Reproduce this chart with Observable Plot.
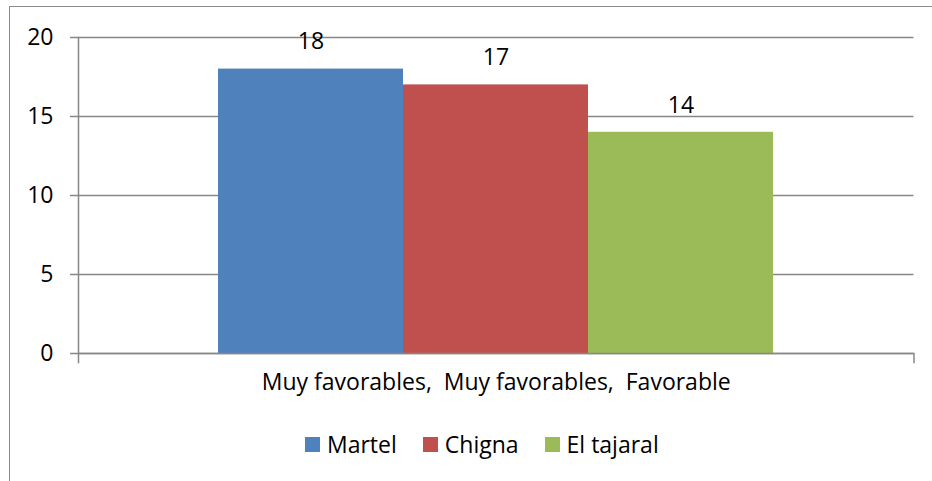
<!DOCTYPE html>
<html>
<head>
<meta charset="utf-8">
<script src="https://cdn.jsdelivr.net/npm/d3@7"></script>
<script src="https://cdn.jsdelivr.net/npm/@observablehq/plot@0.6"></script>
<style>
  body { margin: 0; background: #fff; }
  #chart { position: relative; width: 932px; height: 481px; overflow: hidden; font-family: "Open Sans", sans-serif; }
  #border { position: absolute; left: 9px; top: 6px; width: 1200px; height: 1200px; border: 1.5px solid #8c8c8c; box-sizing: border-box; }
  #plot { position: absolute; left: 0; top: 0; }
  #plot svg text { white-space: pre; }
  #legend { position: absolute; left: 305px; top: 428px; display: flex; align-items: center; font-size: 23px; line-height: 32px; color: #000; }
  .item { display: flex; align-items: center; margin-right: 26px; }
  .sw { width: 15px; height: 15px; margin-right: 7px; }
</style>
</head>
<body>
<div id="chart">
  <div id="border"></div>
  <div id="plot"></div>
  <div id="legend"></div>
</div>
<script>
// Survey results per location
const category = "Muy favorables,  Muy favorables,  Favorable";
const series = ["Martel", "Chigna", "El tajaral"];
const values = [18, 17, 14];
const colors = ["#4F81BD", "#C0504D", "#9BBB59"];
const yTicks = [0, 5, 10, 15, 20];

const data = series.map((s, i) => ({series: s, value: values[i]}));

const W = 932, H = 481;
const mTop = 37, mBottom = 128, mLeft = 78, mRight = 18.5;
const plotH = H - mTop - mBottom;
const axisGray = "#878787";
const font = "'Open Sans', sans-serif";
const fs = 23;

const chart = Plot.plot({
  width: W,
  height: H,
  marginTop: mTop,
  marginBottom: mBottom,
  marginLeft: mLeft,
  marginRight: mRight,
  style: {fontFamily: font, fontSize: fs + "px", color: "#000", background: "transparent", overflow: "visible"},
  x: {domain: series, paddingInner: 0, paddingOuter: 0.75, axis: null},
  y: {domain: [0, 20], axis: null},
  color: {domain: series, range: colors},
  marks: [
    Plot.gridY(yTicks, {stroke: axisGray, strokeOpacity: 1, strokeWidth: 1.5}),
    Plot.axisY(yTicks, {label: null, tickSize: 8, tickPadding: 17, stroke: axisGray, strokeWidth: 1.5, fill: "#000", fontSize: fs, tickFormat: d => String(d)}),
    Plot.barY(data, {x: "series", y: "value", fill: "series"}),
    Plot.ruleY([0], {stroke: axisGray, strokeWidth: 1.5}),
    Plot.frame({anchor: "left", insetBottom: -9, stroke: axisGray, strokeWidth: 1.5}),
    Plot.frame({anchor: "right", insetTop: plotH, insetBottom: -9, stroke: axisGray, strokeWidth: 1.5}),
    Plot.text(data, {x: "series", y: "value", text: d => String(d.value), dy: -27, fontSize: fs, fill: "#000"}),
    Plot.text([category], {frameAnchor: "bottom", dy: 36, text: d => d, fontSize: fs, fill: "#000"})
  ]
});
document.getElementById("plot").appendChild(chart);

// Legend built from the same series and colours
const legend = d3.select("#legend");
series.forEach((s, i) => {
  const item = legend.append("div").attr("class", "item");
  item.append("div").attr("class", "sw").style("background", colors[i]);
  item.append("span").text(s);
});
</script>
</body>
</html>
